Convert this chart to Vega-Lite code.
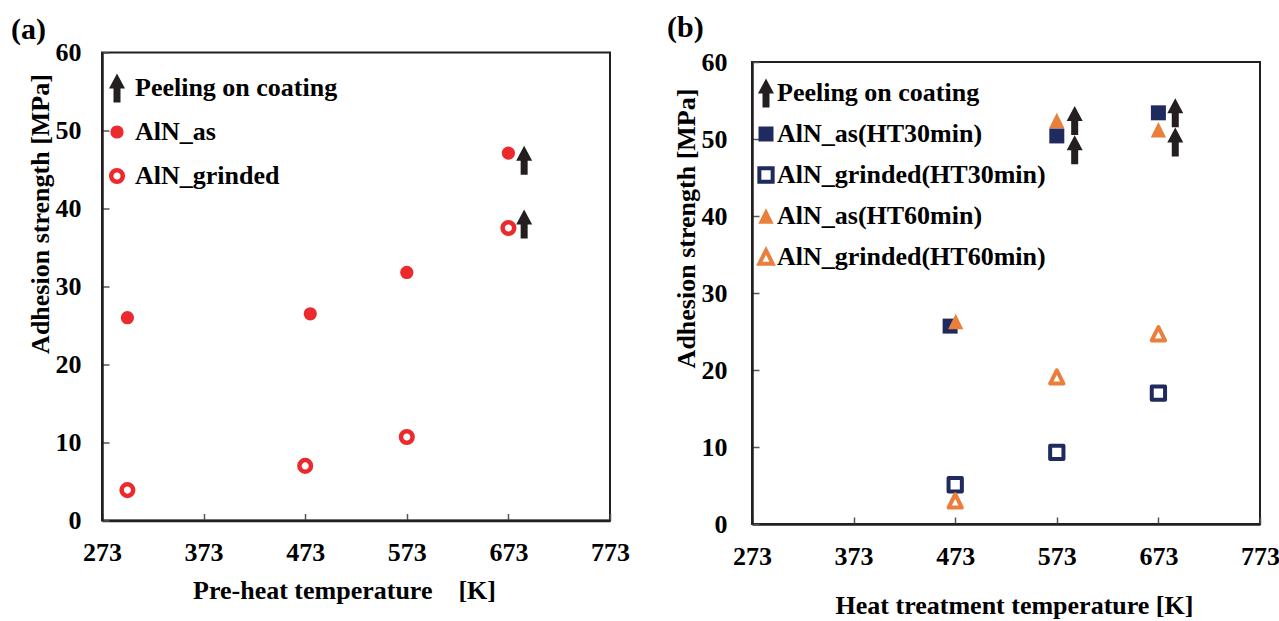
{
  "$schema": "https://vega.github.io/schema/vega-lite/v6.json",
  "padding": {"left": 10, "top": 12.5, "right": 5, "bottom": 0},
  "background": "white",
  "spacing": 36,
  "config": {
    "view": {"stroke": "#231F20", "strokeWidth": 2},
    "axis": {
      "domainColor": "#231F20", "domainWidth": 2.5,
      "tickColor": "#555555", "tickWidth": 1.5, "tickSize": -7,
      "labelFont": "Liberation Serif", "labelFontSize": 26, "labelFontWeight": "bold", "labelColor": "black",
      "titleFont": "Liberation Serif", "titleFontSize": 26, "titleFontWeight": "bold", "titleColor": "black",
      "grid": false, "labelFlush": false, "labelOverlap": false
    },
    "legend": {
      "labelFont": "Liberation Serif", "labelFontSize": 26, "labelFontWeight": "bold", "labelColor": "black",
      "labelLimit": 0, "symbolLimit": 0
    },
    "title": {"font": "Liberation Serif", "fontSize": 30, "fontWeight": "bold", "color": "black"}
  },
  "resolve": {
    "scale": {"x": "independent", "y": "independent", "shape": "independent", "fill": "independent", "stroke": "independent", "strokeWidth": "independent", "size": "independent"},
    "legend": {"shape": "independent", "fill": "independent", "stroke": "independent", "strokeWidth": "independent", "size": "independent"}
  },
  "hconcat": [
    {
      "width": 508, "height": 468,
      "title": {"text": "(a)", "anchor": "start", "frame": "group", "dx": -91, "offset": -29.5, "baseline": "alphabetic"},
      "data": {"values": [
        {"temp": 298, "strength": 26.0, "series": "AlN_as"},
        {"temp": 478, "strength": 26.5, "series": "AlN_as"},
        {"temp": 573, "strength": 31.8, "series": "AlN_as"},
        {"temp": 673, "strength": 47.1, "series": "AlN_as"},
        {"temp": 298, "strength": 3.9, "series": "AlN_grinded"},
        {"temp": 473, "strength": 7.0, "series": "AlN_grinded"},
        {"temp": 573, "strength": 10.7, "series": "AlN_grinded"},
        {"temp": 673, "strength": 37.5, "series": "AlN_grinded"},
        {"temp": 688.5, "strength": 46.2, "series": "Peeling on coating"},
        {"temp": 688.5, "strength": 38.0, "series": "Peeling on coating"}
      ]},
      "mark": {"type": "point", "filled": true, "opacity": 1, "strokeJoin": "round"},
      "encoding": {
        "x": {"field": "temp", "type": "quantitative",
              "scale": {"domain": [273, 773], "nice": false, "zero": false},
              "axis": {"values": [273, 373, 473, 573, 673, 773], "labelPadding": 26, "titlePadding": 12,
                       "labelFont": "Liberation Serif", "labelFontWeight": "bold", "labelFontSize": 26,
                       "title": "Pre-heat temperature\u00a0\u00a0\u00a0\u00a0[K]", "titleX": 242}},
        "y": {"field": "strength", "type": "quantitative",
              "scale": {"domain": [0, 60], "nice": false},
              "axis": {"values": [0, 10, 20, 30, 40, 50, 60], "labelPadding": 28, "titlePadding": 2,
                       "labelFont": "Liberation Serif", "labelFontWeight": "bold", "labelFontSize": 26,
                       "title": "Adhesion strength [MPa]", "titleY": 161}},
        "shape": {"field": "series", "type": "nominal",
                  "scale": {"domain": ["Peeling on coating", "AlN_as", "AlN_grinded"],
                            "range": ["M-0.7,2.9L0.7,2.9L0.7,0.1L1.6,0.1L0,-2.9L-1.6,0.1L-0.7,0.1Z", "circle", "circle"]},
                  "legend": {"orient": "none", "legendX": 2, "legendY": 22.5, "direction": "vertical", "title": null, "rowPadding": 16, "labelOffset": 5}},
        "fill": {"field": "series", "type": "nominal",
                 "scale": {"domain": ["Peeling on coating", "AlN_as", "AlN_grinded"],
                           "range": ["#231F20", "#EC2A2E", "#FFFFFF"]}},
        "stroke": {"field": "series", "type": "nominal",
                   "scale": {"domain": ["Peeling on coating", "AlN_as", "AlN_grinded"],
                             "range": ["#231F20", "#EC2A2E", "#EC2A2E"]}},
        "strokeWidth": {"field": "series", "type": "nominal",
                        "scale": {"type": "ordinal", "domain": ["Peeling on coating", "AlN_as", "AlN_grinded"],
                                  "range": [0, 0, 4.5]}},
        "size": {"field": "series", "type": "nominal",
                 "scale": {"type": "ordinal", "domain": ["Peeling on coating", "AlN_as", "AlN_grinded"],
                           "range": [100, 175, 135]}}
      }
    },
    {
      "spacing": -5.5,
      "vconcat": [
        {
          "width": 508, "height": 1,
          "view": {"stroke": null, "fill": "transparent"},
          "title": {"text": "(b)", "anchor": "start", "frame": "group", "dx": -85, "offset": -14.5, "baseline": "alphabetic"},
          "data": {"values": []},
          "mark": {"type": "point"}
        },
        {
          "width": 508, "height": 462,
          "data": {"values": [
            {"temp": 468, "strength": 25.7, "series": "AlN_as(HT30min)"},
            {"temp": 573, "strength": 50.4, "series": "AlN_as(HT30min)"},
            {"temp": 673, "strength": 53.4, "series": "AlN_as(HT30min)"},
            {"temp": 473, "strength": 5.1, "series": "AlN_grinded(HT30min)"},
            {"temp": 573, "strength": 9.3, "series": "AlN_grinded(HT30min)"},
            {"temp": 673, "strength": 17.0, "series": "AlN_grinded(HT30min)"},
            {"temp": 473.5, "strength": 26.3, "series": "AlN_as(HT60min)"},
            {"temp": 573, "strength": 52.4, "series": "AlN_as(HT60min)"},
            {"temp": 673, "strength": 51.2, "series": "AlN_as(HT60min)"},
            {"temp": 473, "strength": 3.0, "series": "AlN_grinded(HT60min)"},
            {"temp": 573, "strength": 19.1, "series": "AlN_grinded(HT60min)"},
            {"temp": 673, "strength": 24.7, "series": "AlN_grinded(HT60min)"},
            {"temp": 590.6, "strength": 52.4, "series": "Peeling on coating"},
            {"temp": 590.6, "strength": 48.6, "series": "Peeling on coating"},
            {"temp": 689.6, "strength": 53.4, "series": "Peeling on coating"},
            {"temp": 689.6, "strength": 49.6, "series": "Peeling on coating"}
          ]},
          "mark": {"type": "point", "filled": true, "opacity": 1, "strokeJoin": "round"},
          "encoding": {
            "x": {"field": "temp", "type": "quantitative",
                  "scale": {"domain": [273, 773], "nice": false, "zero": false},
                  "axis": {"values": [273, 373, 473, 573, 673, 773], "labelPadding": 26, "titlePadding": 23,
                           "labelFont": "Liberation Serif", "labelFontWeight": "bold", "labelFontSize": 26,
                           "title": "Heat treatment temperature [K]", "titleX": 262}},
            "y": {"field": "strength", "type": "quantitative",
                  "scale": {"domain": [0, 60], "nice": false},
                  "axis": {"values": [0, 10, 20, 30, 40, 50, 60], "labelPadding": 32, "titlePadding": 2,
                           "labelFont": "Liberation Serif", "labelFontWeight": "bold", "labelFontSize": 26,
                           "title": "Adhesion strength [MPa]", "titleY": 166}},
            "shape": {"field": "series", "type": "nominal",
                      "scale": {"domain": ["Peeling on coating", "AlN_as(HT30min)", "AlN_grinded(HT30min)", "AlN_as(HT60min)", "AlN_grinded(HT60min)"],
                                "range": ["M-0.7,2.9L0.7,2.9L0.7,0.1L1.6,0.1L0,-2.9L-1.6,0.1L-0.7,0.1Z", "square", "square", "M0,-1L1,1L-1,1Z", "M0,-1L1,1L-1,1Z"]},
                      "legend": {"orient": "none", "legendX": 1, "legendY": 27.5, "direction": "vertical", "title": null, "rowPadding": 13, "labelOffset": -2}},
            "fill": {"field": "series", "type": "nominal",
                     "scale": {"domain": ["Peeling on coating", "AlN_as(HT30min)", "AlN_grinded(HT30min)", "AlN_as(HT60min)", "AlN_grinded(HT60min)"],
                               "range": ["#231F20", "#1F2A5E", "#FFFFFF", "#E97F3B", "#FFFFFF"]}},
            "stroke": {"field": "series", "type": "nominal",
                       "scale": {"domain": ["Peeling on coating", "AlN_as(HT30min)", "AlN_grinded(HT30min)", "AlN_as(HT60min)", "AlN_grinded(HT60min)"],
                                 "range": ["#231F20", "#1F2A5E", "#1F2A5E", "#E97F3B", "#E97F3B"]}},
            "strokeWidth": {"field": "series", "type": "nominal",
                            "scale": {"type": "ordinal", "domain": ["Peeling on coating", "AlN_as(HT30min)", "AlN_grinded(HT30min)", "AlN_as(HT60min)", "AlN_grinded(HT60min)"],
                                      "range": [0, 0, 4, 0, 4]}},
            "size": {"field": "series", "type": "nominal",
                     "scale": {"type": "ordinal", "domain": ["Peeling on coating", "AlN_as(HT30min)", "AlN_grinded(HT30min)", "AlN_as(HT60min)", "AlN_grinded(HT60min)"],
                               "range": [100, 225, 177, 234, 177]}}
          }
        }
      ]
    }
  ]
}
